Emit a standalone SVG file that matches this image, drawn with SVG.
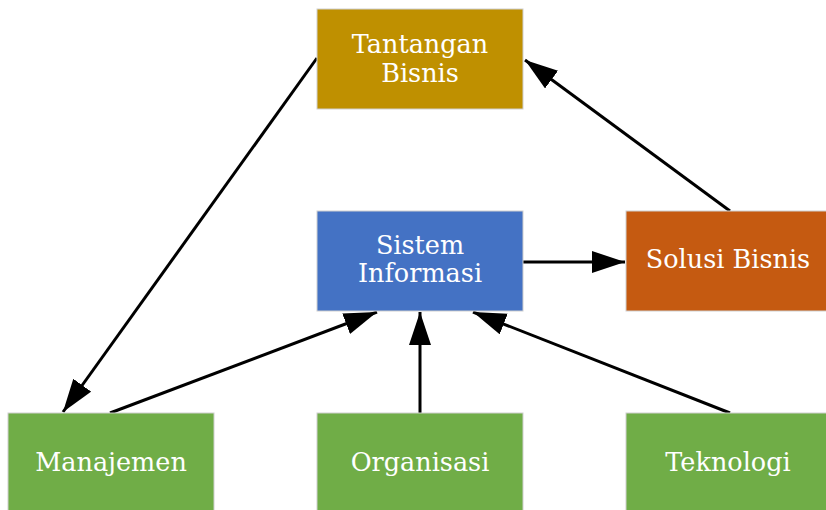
<svg xmlns="http://www.w3.org/2000/svg" width="826" height="510" viewBox="0 0 826 510">
  <style>
    .box { stroke: #cfcfcf; stroke-width: 1; }
    .gold { fill: #bf9000; }
    .blue { fill: #4472c4; }
    .orange { fill: #c55a11; }
    .green { fill: #70ad47; }
    .label { font-family: "DejaVu Serif", "Liberation Serif", serif; font-size: 25.5px; fill: #ffffff; text-anchor: middle; }
    .edge { stroke: #000000; stroke-width: 3; fill: none; marker-end: url(#arrow); }
  </style>
  <defs>
    <marker id="arrow" markerUnits="userSpaceOnUse" markerWidth="34" markerHeight="24" refX="33" refY="11" orient="auto">
      <path d="M0,0 L33,11 L0,22 Z" fill="#000000"/>
    </marker>
  </defs>
  <rect width="826" height="510" fill="#ffffff"/>

  <g id="connectors">
    <line class="edge" x1="317" y1="58" x2="63" y2="412"/>
    <line class="edge" x1="730" y1="211" x2="525" y2="60"/>
    <line class="edge" x1="523" y1="262" x2="625" y2="262"/>
    <line class="edge" x1="110" y1="413" x2="377" y2="312"/>
    <line class="edge" x1="420" y1="413" x2="420" y2="312"/>
    <line class="edge" x1="730" y1="413" x2="473" y2="312"/>
  </g>

  <g id="tantangan-bisnis">
    <rect class="box gold" x="317" y="9" width="206" height="100"/>
    <text class="label" x="420" y="53">Tantangan</text>
    <text class="label" x="420" y="82">Bisnis</text>
  </g>
  <g id="sistem-informasi">
    <rect class="box blue" x="317" y="211" width="206" height="100"/>
    <text class="label" x="420" y="254">Sistem</text>
    <text class="label" x="420" y="282">Informasi</text>
  </g>
  <g id="solusi-bisnis">
    <rect class="box orange" x="626" y="211" width="206" height="100"/>
    <text class="label" x="728" y="268">Solusi Bisnis</text>
  </g>
  <g id="manajemen">
    <rect class="box green" x="8" y="413" width="206" height="105"/>
    <text class="label" x="111" y="471">Manajemen</text>
  </g>
  <g id="organisasi">
    <rect class="box green" x="317" y="413" width="206" height="105"/>
    <text class="label" x="420" y="471">Organisasi</text>
  </g>
  <g id="teknologi">
    <rect class="box green" x="626" y="413" width="206" height="105"/>
    <text class="label" x="728" y="471">Teknologi</text>
  </g>
</svg>
